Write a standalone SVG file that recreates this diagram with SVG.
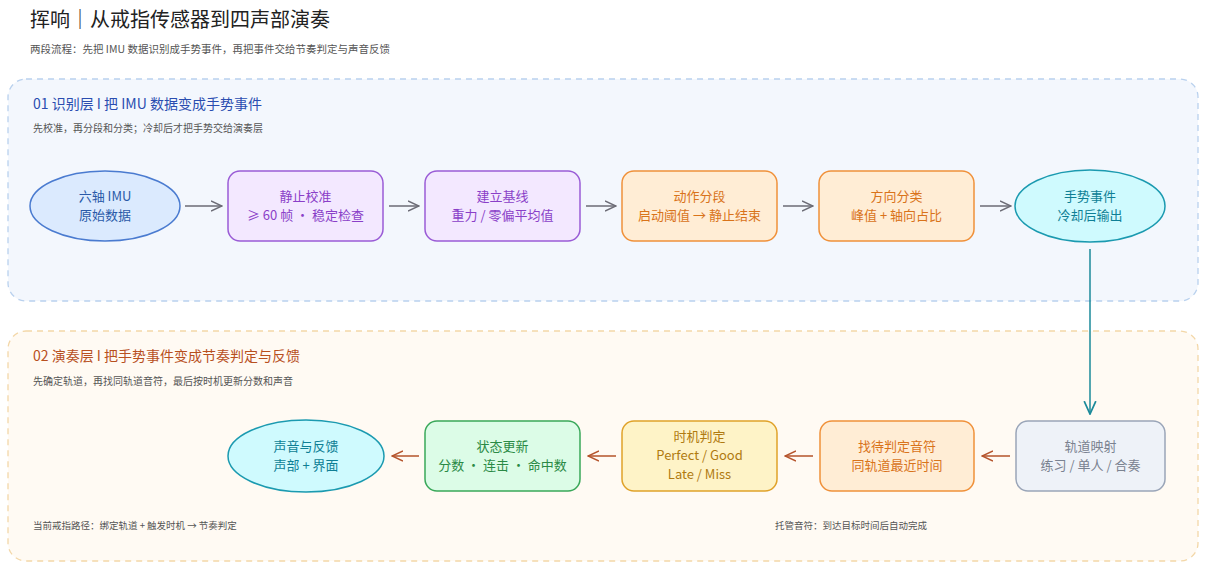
<svg xmlns="http://www.w3.org/2000/svg" width="1206" height="569" viewBox="0 0 1206 569">
<style>
text{font-family:"Noto Sans CJK SC","Noto Sans",sans-serif}
.t{text-anchor:middle;font-size:13px}
.blue{fill:#dbeafe;stroke:#4a7bd0;stroke-width:1.5}
.pur{fill:#f3e8ff;stroke:#9a5cd6;stroke-width:1.5}
.org{fill:#ffedd5;stroke:#f0913a;stroke-width:1.5}
.cyan{fill:#cffafe;stroke:#1b9ab0;stroke-width:1.5}
.gry{fill:#eef2f8;stroke:#9aa5b8;stroke-width:1.5}
.yel{fill:#fef3c7;stroke:#e0a22a;stroke-width:1.5}
.grn{fill:#dcfce7;stroke:#3aa85a;stroke-width:1.5}
.ag{stroke:#6b6b75;stroke-width:1.5;fill:none}
.ab{stroke:#b5532a;stroke-width:1.5;fill:none}
</style>
<defs>
<marker id="mg" viewBox="0 0 12 12" refX="11" refY="6" markerWidth="12" markerHeight="12" markerUnits="userSpaceOnUse" orient="auto"><path d="M0,1 L11,6 L0,11" fill="none" stroke="#6b6b75" stroke-width="1.5"/></marker>
<marker id="mb" viewBox="0 0 12 12" refX="11" refY="6" markerWidth="12" markerHeight="12" markerUnits="userSpaceOnUse" orient="auto"><path d="M0,1 L11,6 L0,11" fill="none" stroke="#b5532a" stroke-width="1.5"/></marker>
<marker id="mt" viewBox="0 0 12 12" refX="11" refY="6" markerWidth="14" markerHeight="14" markerUnits="userSpaceOnUse" orient="auto"><path d="M0,1 L11,6 L0,11" fill="none" stroke="#1b8a9a" stroke-width="1.5"/></marker>
</defs>
<rect width="1206" height="569" fill="#ffffff"/>
<text x="30" y="27" font-size="20" fill="#222">挥响｜从戒指传感器到四声部演奏</text>
<text x="30" y="53" font-size="10.5" fill="#555">两段流程：先把 IMU 数据识别成手势事件，再把事件交给节奏判定与声音反馈</text>
<g id="panel1">
<rect x="8" y="79" width="1190" height="222" rx="18" fill="#f3f7fd" stroke="#b9d1ee" stroke-width="1.3" stroke-dasharray="6 5"/>
<text x="33" y="109" font-size="14" fill="#2a4db0">01  识别层 I 把 IMU 数据变成手势事件</text>
<text x="33" y="132" font-size="10" fill="#555">先校准，再分段和分类；冷却后才把手势交给演奏层</text>
</g>
<g id="panel2">
<rect x="8" y="331" width="1190" height="230" rx="18" fill="#fffaf3" stroke="#f3d7a8" stroke-width="1.3" stroke-dasharray="6 5"/>
<text x="33" y="361" font-size="14" fill="#b8501e">02  演奏层 I 把手势事件变成节奏判定与反馈</text>
<text x="33" y="385" font-size="10" fill="#555">先确定轨道，再找同轨道音符，最后按时机更新分数和声音</text>
<text x="33" y="529" font-size="9.5" fill="#555">当前戒指路径：绑定轨道 + 触发时机 → 节奏判定</text>
<text x="775" y="529" font-size="9.5" fill="#555">托管音符：到达目标时间后自动完成</text>
</g>
<g id="n1"><ellipse cx="105" cy="206" rx="75" ry="35" class="blue"/><text class="t" x="105" y="201" fill="#2a5aa8">六轴 IMU</text><text class="t" x="105" y="220" fill="#2a5aa8">原始数据</text></g>
<g id="n2"><rect x="228" y="171" width="155" height="70" rx="12" class="pur"/><text class="t" x="305.5" y="201" fill="#8a3fc8">静止校准</text><text class="t" x="305.5" y="220" fill="#8a3fc8">≥ 60 帧 · 稳定检查</text></g>
<g id="n3"><rect x="425" y="171" width="155" height="70" rx="12" class="pur"/><text class="t" x="502.5" y="201" fill="#8a3fc8">建立基线</text><text class="t" x="502.5" y="220" fill="#8a3fc8">重力 / 零偏平均值</text></g>
<g id="n4"><rect x="622" y="171" width="155" height="70" rx="12" class="org"/><text class="t" x="699.5" y="201" fill="#d9731a">动作分段</text><text class="t" x="699.5" y="220" fill="#d9731a">启动阈值 → 静止结束</text></g>
<g id="n5"><rect x="819" y="171" width="155" height="70" rx="12" class="org"/><text class="t" x="896.5" y="201" fill="#d9731a">方向分类</text><text class="t" x="896.5" y="220" fill="#d9731a">峰值 + 轴向占比</text></g>
<g id="n6"><ellipse cx="1090" cy="206" rx="75" ry="36" class="cyan"/><text class="t" x="1090" y="201" fill="#0e7f95">手势事件</text><text class="t" x="1090" y="220" fill="#0e7f95">冷却后输出</text></g>
<g id="n7"><rect x="1016" y="421" width="149" height="70" rx="12" class="gry"/><text class="t" x="1090.5" y="451" fill="#7a8290">轨道映射</text><text class="t" x="1090.5" y="470" fill="#7a8290">练习 / 单人 / 合奏</text></g>
<g id="n8"><rect x="820" y="421" width="154" height="70" rx="12" class="org"/><text class="t" x="897" y="451" fill="#d9731a">找待判定音符</text><text class="t" x="897" y="470" fill="#d9731a">同轨道最近时间</text></g>
<g id="n9"><rect x="622" y="421" width="155" height="70" rx="12" class="yel"/><text class="t" x="699.5" y="441" fill="#b07a10">时机判定</text><text class="t" x="699.5" y="460" fill="#b07a10">Perfect / Good</text><text class="t" x="699.5" y="479" fill="#b07a10">Late / Miss</text></g>
<g id="n10"><rect x="425" y="421" width="155" height="70" rx="12" class="grn"/><text class="t" x="502.5" y="451" fill="#2a8a45">状态更新</text><text class="t" x="502.5" y="470" fill="#2a8a45">分数 · 连击 · 命中数</text></g>
<g id="n11"><ellipse cx="306" cy="456" rx="78" ry="36" class="cyan"/><text class="t" x="306" y="451" fill="#0e7f95">声音与反馈</text><text class="t" x="306" y="470" fill="#0e7f95">声部 + 界面</text></g>
<g id="connectors">
<line x1="185" y1="206" x2="222" y2="206" class="ag" marker-end="url(#mg)"/>
<line x1="389" y1="206" x2="419" y2="206" class="ag" marker-end="url(#mg)"/>
<line x1="586" y1="206" x2="616" y2="206" class="ag" marker-end="url(#mg)"/>
<line x1="783" y1="206" x2="813" y2="206" class="ag" marker-end="url(#mg)"/>
<line x1="980" y1="206" x2="1011" y2="206" class="ag" marker-end="url(#mg)"/>
<line x1="1090" y1="249" x2="1090" y2="414" stroke="#1b8a9a" stroke-width="1.5" marker-end="url(#mt)"/>
<line x1="1010" y1="456" x2="982" y2="456" class="ab" marker-end="url(#mb)"/>
<line x1="813" y1="456" x2="785" y2="456" class="ab" marker-end="url(#mb)"/>
<line x1="616" y1="456" x2="588" y2="456" class="ab" marker-end="url(#mb)"/>
<line x1="419" y1="456" x2="392" y2="456" class="ab" marker-end="url(#mb)"/>
</g>
</svg>
